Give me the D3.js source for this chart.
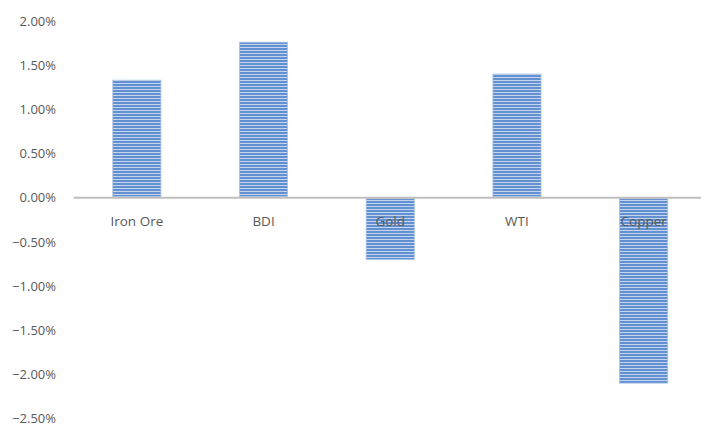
<!DOCTYPE html>
<html>
<head>
<meta charset="utf-8">
<script src="https://cdn.jsdelivr.net/npm/d3@7"></script>
<style>
  body { margin: 0; background: #fff; }
  svg text { font-family: "Open Sans", sans-serif; fill: #595959; }
</style>
</head>
<body>
<svg></svg>
<script>
// Datos
var categories = ['Iron Ore', 'BDI', 'Gold', 'WTI', 'Copper'];
var values = [1.33, 1.76, -0.70, 1.40, -2.10];
var ticks = [2.0, 1.5, 1.0, 0.5, 0.0, -0.5, -1.0, -1.5, -2.0, -2.5];

var w = 701,
    h = 426;

var svg = d3.select('svg')
    .attr('width', w)
    .attr('height', h);

// Patron de rayas horizontales
var pat = svg.append('defs').append('pattern')
    .attr('id', 'rayas')
    .attr('patternUnits', 'userSpaceOnUse')
    .attr('width', 4)
    .attr('height', 3);
pat.append('rect')
    .attr('width', 4).attr('height', 3)
    .attr('fill', '#6390d0');
pat.append('rect')
    .attr('y', 2)
    .attr('width', 4).attr('height', 1)
    .attr('fill', '#c3d4ee');

var xScale = d3.scaleBand()
    .domain(categories)
    .range([73.5, 707])
    .paddingInner(0.62)
    .paddingOuter(0.31);
var yScale = d3.scaleLinear()
    .domain([-2.5, 2.0])
    .range([418.5, 21]);

// Etiquetas del eje Y
var yAxis = d3.axisLeft(yScale)
    .tickValues(ticks)
    .tickSize(0)
    .tickPadding(0)
    .tickFormat(function(d) { return d3.format('.2f')(d) + '%'; });
var gy = svg.append('g')
    .attr('transform', 'translate(56,0)')
    .call(yAxis);
gy.select('.domain').remove();
gy.selectAll('text')
    .style('font-size', '13px')
    .attr('fill', '#595959');

// Barras
svg.selectAll('rect.bar')
    .data(values)
    .enter()
    .append('rect')
    .attr('class', 'bar')
    .attr('x', function(d, i) { return xScale(categories[i]); })
    .attr('y', function(d) { return d > 0 ? yScale(d) : yScale(0) + 1; })
    .attr('width', xScale.bandwidth())
    .attr('height', function(d) { return Math.abs(yScale(d) - yScale(0)) - 1; })
    .attr('fill', 'url(#rayas)')
    .attr('stroke', '#a9c2e8')
    .attr('stroke-width', 0.8);

// Linea del cero
svg.append('line')
    .attr('x1', 73.5)
    .attr('x2', 707)
    .attr('y1', yScale(0))
    .attr('y2', yScale(0))
    .attr('stroke', '#bfbfbf')
    .attr('stroke-width', 2);

// Etiquetas de categorias
svg.selectAll('text.cat')
    .data(categories)
    .enter()
    .append('text')
    .attr('class', 'cat')
    .attr('x', function(d) { return xScale(d) + xScale.bandwidth() / 2; })
    .attr('y', 226)
    .attr('text-anchor', 'middle')
    .style('font-size', '13.5px')
    .text(function(d) { return d; });
</script>
</body>
</html>
